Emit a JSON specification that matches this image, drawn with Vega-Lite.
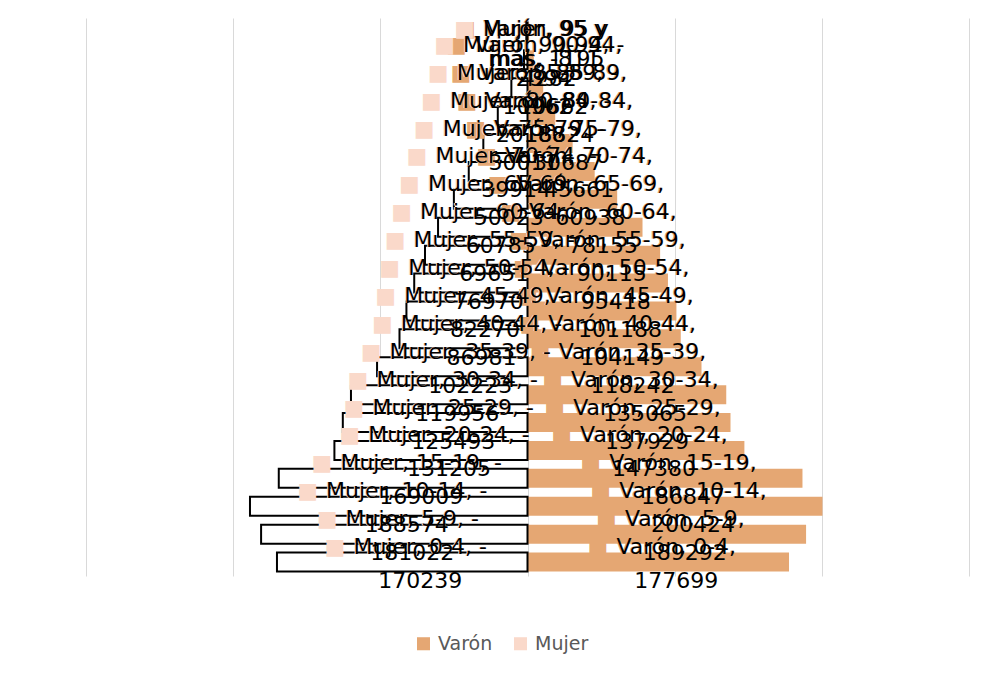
{
  "$schema": "https://vega.github.io/schema/vega-lite/v6.json",
  "width": 883,
  "height": 558,
  "autosize": {"type": "none"},
  "padding": {"top": 18, "left": 86, "right": 12, "bottom": 99},
  "background": "white",
  "config": {"view": {"stroke": null}, "font": "DejaVu Sans"},
  "data": {
    "values": [
      {"edad": "0-4", "sexo": "Varón", "valor": 177699},
      {"edad": "5-9", "sexo": "Varón", "valor": 189292},
      {"edad": "10-14", "sexo": "Varón", "valor": 200424},
      {"edad": "15-19", "sexo": "Varón", "valor": 186847},
      {"edad": "20-24", "sexo": "Varón", "valor": 147380},
      {"edad": "25-29", "sexo": "Varón", "valor": 137929},
      {"edad": "30-34", "sexo": "Varón", "valor": 135065},
      {"edad": "35-39", "sexo": "Varón", "valor": 118242},
      {"edad": "40-44", "sexo": "Varón", "valor": 104149},
      {"edad": "45-49", "sexo": "Varón", "valor": 101188},
      {"edad": "50-54", "sexo": "Varón", "valor": 95418},
      {"edad": "55-59", "sexo": "Varón", "valor": 90115},
      {"edad": "60-64", "sexo": "Varón", "valor": 78155},
      {"edad": "65-69", "sexo": "Varón", "valor": 60938},
      {"edad": "70-74", "sexo": "Varón", "valor": 45661},
      {"edad": "75-79", "sexo": "Varón", "valor": 30687},
      {"edad": "80-84", "sexo": "Varón", "valor": 18824},
      {"edad": "85-89", "sexo": "Varón", "valor": 10662},
      {"edad": "90-94", "sexo": "Varón", "valor": 4282},
      {"edad": "95 y más", "sexo": "Varón", "valor": 1195},
      {"edad": "0-4", "sexo": "Mujer", "valor": -170239},
      {"edad": "5-9", "sexo": "Mujer", "valor": -181022},
      {"edad": "10-14", "sexo": "Mujer", "valor": -188574},
      {"edad": "15-19", "sexo": "Mujer", "valor": -169009},
      {"edad": "20-24", "sexo": "Mujer", "valor": -131205},
      {"edad": "25-29", "sexo": "Mujer", "valor": -125493},
      {"edad": "30-34", "sexo": "Mujer", "valor": -119956},
      {"edad": "35-39", "sexo": "Mujer", "valor": -102223},
      {"edad": "40-44", "sexo": "Mujer", "valor": -86981},
      {"edad": "45-49", "sexo": "Mujer", "valor": -82270},
      {"edad": "50-54", "sexo": "Mujer", "valor": -76970},
      {"edad": "55-59", "sexo": "Mujer", "valor": -69651},
      {"edad": "60-64", "sexo": "Mujer", "valor": -60785},
      {"edad": "65-69", "sexo": "Mujer", "valor": -50023},
      {"edad": "70-74", "sexo": "Mujer", "valor": -39914},
      {"edad": "75-79", "sexo": "Mujer", "valor": -30011},
      {"edad": "80-84", "sexo": "Mujer", "valor": -20188},
      {"edad": "85-89", "sexo": "Mujer", "valor": -10962},
      {"edad": "90-94", "sexo": "Mujer", "valor": -2394},
      {"edad": "95 y más", "sexo": "Mujer", "valor": -811}
    ]
  },
  "transform": [
    {"calculate": "datum.sexo + ', ' + (datum.edad === '95 y más' ? '95 y' : datum.edad + ',' + (datum.sexo === 'Mujer' ? ' -' : ''))", "as": "l1"},
    {"calculate": "datum.edad === '95 y más' ? 'más, ' + (datum.sexo === 'Mujer' ? '-' : '') + abs(datum.valor) : '' + abs(datum.valor)", "as": "l2"},
    {"calculate": "'■  ' + datum.l1", "as": "k1"}
  ],
  "encoding": {
    "y": {
      "field": "edad",
      "type": "nominal",
      "axis": null,
      "scale": {
        "domain": ["95 y más", "90-94", "85-89", "80-84", "75-79", "70-74", "65-69", "60-64", "55-59", "50-54", "45-49", "40-44", "35-39", "30-34", "25-29", "20-24", "15-19", "10-14", "5-9", "0-4"],
        "paddingInner": 0.32,
        "paddingOuter": 0.16
      }
    }
  },
  "layer": [
    {
      "mark": {"type": "bar", "strokeWidth": 2},
      "encoding": {
        "x": {
          "field": "valor",
          "type": "quantitative",
          "scale": {"domain": [-300000, 300000], "nice": false, "zero": false},
          "axis": {
            "values": [-300000, -200000, -100000, 0, 100000, 200000, 300000],
            "labels": false, "ticks": false, "domain": false, "title": null,
            "grid": true, "gridColor": "#D9D9D9", "gridWidth": 1
          }
        },
        "fill": {"condition": {"test": "datum.sexo === 'Mujer'", "value": "#FFFFFF"}, "value": "#E5A773"},
        "stroke": {"condition": {"test": "datum.sexo === 'Mujer'", "value": "#000000"}, "value": null}
      }
    },
    {
      "transform": [{"filter": "datum.edad !== '95 y más'"}],
      "mark": {"type": "text", "align": "center", "baseline": "middle", "dx": 3, "dy": -15, "fontSize": 22, "font": "DejaVu Sans"},
      "encoding": {
        "x": {"field": "valor", "type": "quantitative", "scale": {"domain": [-600000, 600000], "nice": false, "zero": false}, "axis": null},
        "text": {"field": "k1"},
        "color": {
          "field": "sexo",
          "type": "nominal",
          "scale": {"domain": ["Varón", "Mujer"], "range": ["#E5A773", "#FAD9CA"]},
          "legend": {
            "title": null,
            "orient": "none",
            "direction": "horizontal",
            "legendX": 328,
            "legendY": 616,
            "symbolType": "square",
            "symbolSize": 170,
            "symbolStrokeWidth": 0,
            "labelFont": "DejaVu Sans",
            "labelFontSize": 19,
            "labelColor": "#595959",
            "labelOffset": 5,
            "columnPadding": 18,
            "padding": 0
          }
        }
      }
    },
    {
      "transform": [{"filter": "datum.edad === '95 y más'"}],
      "mark": {"type": "text", "align": "center", "baseline": "middle", "dx": 3, "dy": -3, "fontSize": 22, "font": "DejaVu Sans"},
      "encoding": {
        "x": {"field": "valor", "type": "quantitative", "scale": {"domain": [-600000, 600000], "nice": false, "zero": false}, "axis": null},
        "text": {"field": "k1"},
        "color": {"field": "sexo", "type": "nominal", "scale": {"domain": ["Varón", "Mujer"], "range": ["#E5A773", "#FAD9CA"]}, "legend": null}
      }
    },
    {
      "transform": [{"filter": "datum.edad !== '95 y más'"}],
      "mark": {"type": "text", "align": "center", "baseline": "middle", "dx": 18, "dy": -15, "fontSize": 22, "font": "DejaVu Sans", "color": "#000000"},
      "encoding": {
        "x": {"field": "valor", "type": "quantitative", "scale": {"domain": [-600000, 600000], "nice": false, "zero": false}, "axis": null},
        "text": {"field": "l1"}
      }
    },
    {
      "transform": [{"filter": "datum.edad !== '95 y más'"}],
      "mark": {"type": "text", "align": "center", "baseline": "middle", "dx": 18, "dy": 19, "fontSize": 22, "font": "DejaVu Sans", "color": "#000000"},
      "encoding": {
        "x": {"field": "valor", "type": "quantitative", "scale": {"domain": [-600000, 600000], "nice": false, "zero": false}, "axis": null},
        "text": {"field": "l2"}
      }
    },
    {
      "transform": [{"filter": "datum.edad === '95 y más'"}],
      "mark": {"type": "text", "align": "center", "baseline": "middle", "dx": 18, "dy": -3, "fontSize": 22, "font": "DejaVu Sans", "color": "#000000"},
      "encoding": {
        "x": {"field": "valor", "type": "quantitative", "scale": {"domain": [-600000, 600000], "nice": false, "zero": false}, "axis": null},
        "text": {"field": "l1"}
      }
    },
    {
      "transform": [{"filter": "datum.edad === '95 y más'"}],
      "mark": {"type": "text", "align": "center", "baseline": "middle", "dx": 18, "dy": 27, "fontSize": 22, "font": "DejaVu Sans", "color": "#000000"},
      "encoding": {
        "x": {"field": "valor", "type": "quantitative", "scale": {"domain": [-600000, 600000], "nice": false, "zero": false}, "axis": null},
        "text": {"field": "l2"}
      }
    }
  ],
  "resolve": {"scale": {"x": "independent"}}
}
